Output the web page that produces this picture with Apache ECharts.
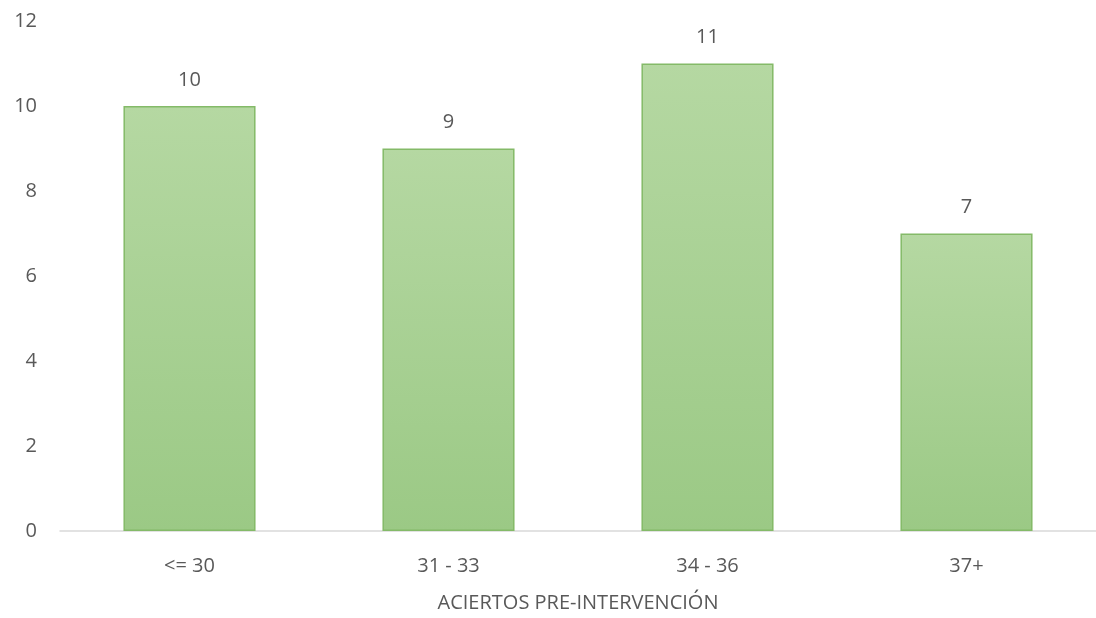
<!DOCTYPE html>
<html>
<head>
<meta charset="utf-8">
<script src="https://cdn.jsdelivr.net/npm/echarts@6/dist/echarts.min.js"></script>
<style>
  html, body { margin: 0; padding: 0; background: #ffffff; }
  #chart { width: 1096px; height: 618px; }
</style>
</head>
<body>
<div id="chart"></div>
<script>
// Score ranges (pre-intervention correct answers) and how many students fall in each
const categories = ['<= 30', '31 - 33', '34 - 36', '37+'];
const counts = [10, 9, 11, 7];
const axisTitle = 'ACIERTOS PRE-INTERVENCIÓN';

const chart = echarts.init(document.getElementById('chart'));
const textColor = '#595959';
const font = 'Open Sans, Liberation Sans, sans-serif';
const fontSize = 20;

chart.setOption({
  animation: false,
  // plot area runs slightly past the right edge of the canvas
  grid: { left: 60, width: 1048, top: 21, bottom: 83 },
  xAxis: {
    type: 'category',
    data: categories,
    name: axisTitle,
    nameLocation: 'middle',
    nameGap: 62,
    nameTextStyle: { color: textColor, fontSize: fontSize, fontFamily: font },
    axisLine: { lineStyle: { color: '#d9d9d9', width: 1.5 } },
    axisTick: { show: false },
    axisLabel: { color: textColor, fontSize: fontSize, fontFamily: font, margin: 25 }
  },
  yAxis: {
    type: 'value',
    min: 0,
    max: 12,
    interval: 2,
    splitLine: { show: false },
    axisLine: { show: false },
    axisTick: { show: false },
    axisLabel: { color: textColor, fontSize: fontSize, fontFamily: font, margin: 23 }
  },
  series: [{
    type: 'bar',
    data: counts,
    barCategoryGap: '49%',
    itemStyle: {
      color: new echarts.graphic.LinearGradient(0, 0, 0, 1, [
        { offset: 0, color: '#b5d8a2' },
        { offset: 1, color: '#9bc985' }
      ]),
      borderColor: '#84ba68',
      borderWidth: 1.5
    },
    label: {
      show: true,
      position: 'top',
      distance: 16,
      color: textColor,
      fontSize: fontSize,
      fontFamily: font
    }
  }]
});
</script>
</body>
</html>
